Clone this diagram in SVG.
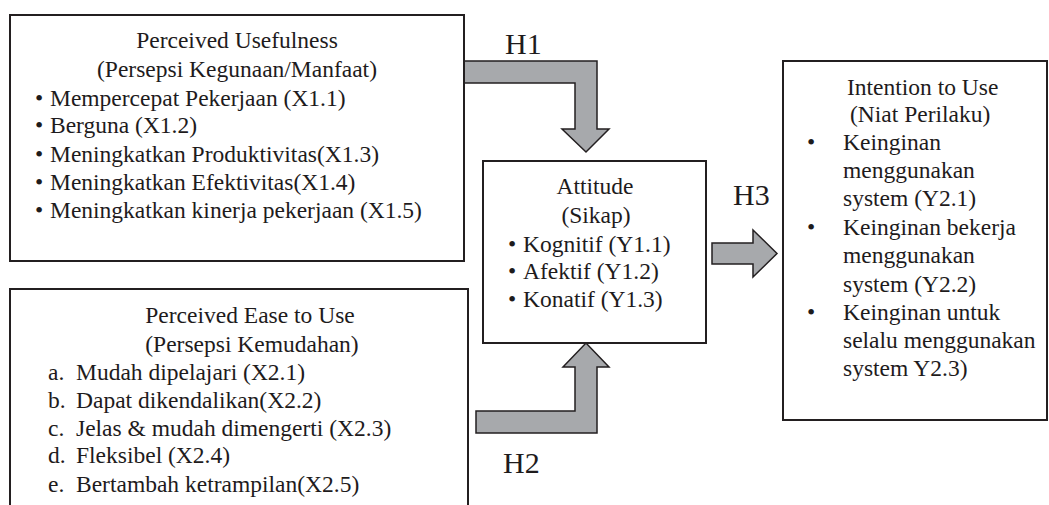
<svg xmlns="http://www.w3.org/2000/svg" width="1049" height="505" viewBox="0 0 1049 505">
<style>
.box{fill:#fff;stroke:#231f20;stroke-width:2}
.arr{fill:#a7a9ac;stroke:#231f20;stroke-width:1.5;stroke-linejoin:miter}
text{font-family:'Liberation Serif',serif;font-size:23.5px;fill:#1e1b1c}
.c{text-anchor:middle}
.h{font-size:30px}
</style>
<rect width="1049" height="505" fill="#fff"/>
<g id="connectors" font-family="Liberation Serif, serif">
<path class="arr" d="M463,61 H597 V129 H609 L586,152 L562,129 H575 V83 H463 Z"/>
<path class="arr" d="M476,411 H575 V367 H563 L586,343 L609,367 H597 V433 H476 Z"/>
<path class="arr" d="M712,243 H753 V230 L777,253.5 L753,277 V264 H712 Z"/>
<text class="h" x="505" y="54">H1</text>
<text class="h" x="503" y="473">H2</text>
<text class="h" x="733" y="205">H3</text>
</g>
<g id="perceived-usefulness" font-family="Liberation Serif, serif">
<rect class="box" x="10" y="15" width="454" height="246"/>
<text class="c" x="237" y="48">Perceived Usefulness</text>
<text class="c" x="237" y="77">(Persepsi Kegunaan/Manfaat)</text>
<text class="c" x="39" y="106">•</text><text x="50" y="106">Mempercepat Pekerjaan (X1.1)</text>
<text class="c" x="39" y="133">•</text><text x="50" y="133">Berguna (X1.2)</text>
<text class="c" x="39" y="162">•</text><text x="50" y="162">Meningkatkan Produktivitas(X1.3)</text>
<text class="c" x="39" y="190">•</text><text x="50" y="190">Meningkatkan Efektivitas(X1.4)</text>
<text class="c" x="39" y="218">•</text><text x="50" y="218">Meningkatkan kinerja pekerjaan (X1.5)</text>
</g>
<g id="perceived-ease" font-family="Liberation Serif, serif">
<path class="box" d="M10,506 V289 H468 V506"/>
<text class="c" x="250" y="323">Perceived Ease to Use</text>
<text class="c" x="252" y="352">(Persepsi Kemudahan)</text>
<text x="48" y="380">a.</text><text x="76" y="380">Mudah dipelajari (X2.1)</text>
<text x="48" y="408">b.</text><text x="76" y="408">Dapat dikendalikan(X2.2)</text>
<text x="48" y="436">c.</text><text x="76" y="436">Jelas &amp; mudah dimengerti (X2.3)</text>
<text x="48" y="463">d.</text><text x="76" y="463">Fleksibel (X2.4)</text>
<text x="48" y="492">e.</text><text x="76" y="492">Bertambah ketrampilan(X2.5)</text>
</g>
<g id="attitude" font-family="Liberation Serif, serif">
<rect class="box" x="483" y="161" width="223" height="182"/>
<text class="c" x="595" y="194">Attitude</text>
<text class="c" x="596" y="223">(Sikap)</text>
<text class="c" x="512" y="252">•</text><text x="523" y="252">Kognitif (Y1.1)</text>
<text class="c" x="512" y="279">•</text><text x="523" y="279">Afektif (Y1.2)</text>
<text class="c" x="512" y="307">•</text><text x="523" y="307">Konatif (Y1.3)</text>
</g>
<g id="intention" font-family="Liberation Serif, serif">
<rect class="box" x="783" y="61" width="264" height="359"/>
<text x="847" y="95">Intention to Use</text>
<text x="850" y="122">(Niat Perilaku)</text>
<text class="c" x="811" y="150">•</text><text x="843" y="150">Keinginan</text>
<text x="843" y="178">menggunakan</text>
<text x="843" y="206">system (Y2.1)</text>
<text class="c" x="811" y="235">•</text><text x="843" y="235">Keinginan bekerja</text>
<text x="843" y="263">menggunakan</text>
<text x="843" y="292">system (Y2.2)</text>
<text class="c" x="811" y="320">•</text><text x="843" y="320">Keinginan untuk</text>
<text x="843" y="348">selalu menggunakan</text>
<text x="843" y="376">system Y2.3)</text>
</g>
</svg>
